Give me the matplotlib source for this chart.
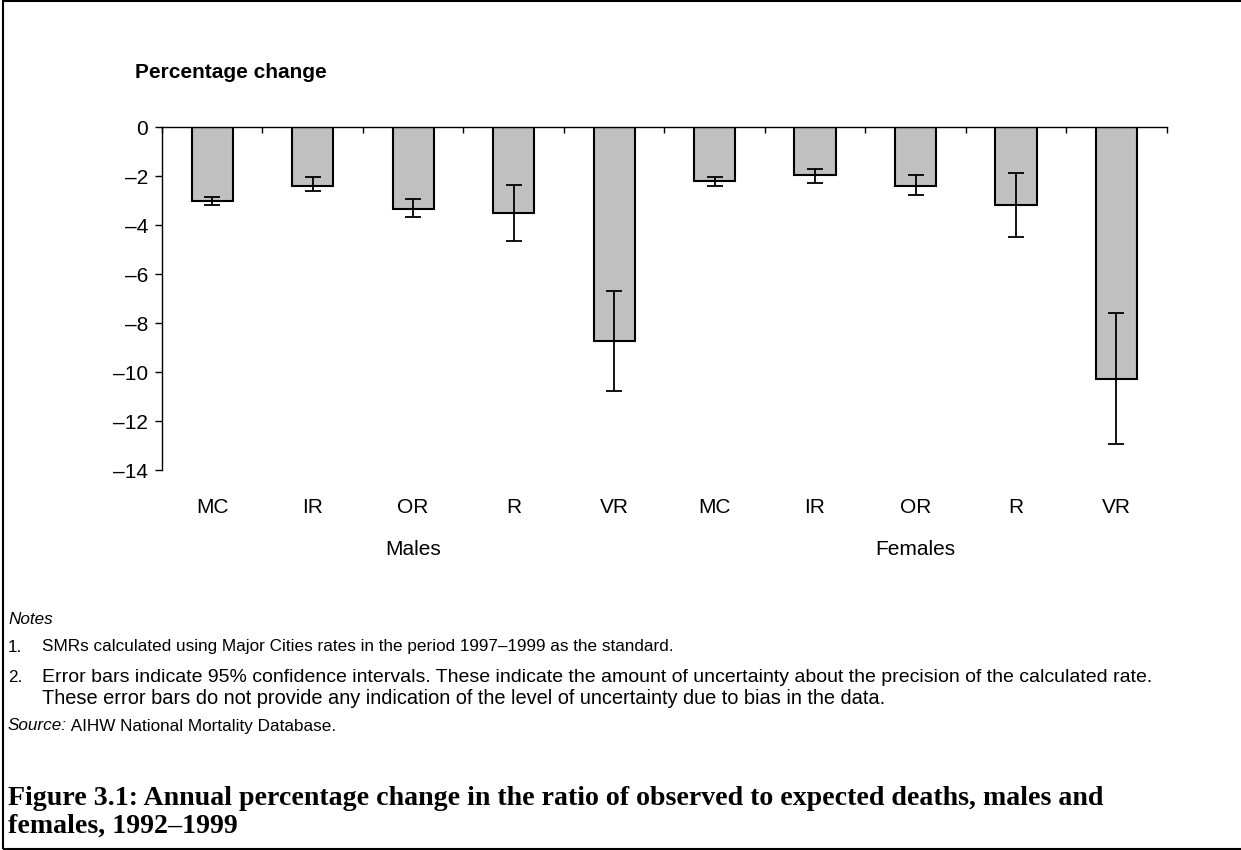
import numpy as np
import matplotlib.pyplot as plt
from matplotlib.patches import Rectangle
from matplotlib.transforms import blended_transform_factory

plt.rcParams['font.family'] = ['Liberation Sans', 'DejaVu Sans']

# ── Data ─────────────────────────────────────────────────────
categories = ['MC', 'IR', 'OR', 'R', 'VR', 'MC', 'IR', 'OR', 'R', 'VR']
groups = ['Males', 'Females']
group_centres = [2.5, 7.5]
change = [-3.00, -2.38, -3.35, -3.51, -8.71, -2.20, -1.96, -2.38, -3.18, -10.26]
ci_upper = [-2.84, -2.03, -2.93, -2.37, -6.68, -2.03, -1.71, -1.95, -1.86, -7.58]
ci_lower = [-3.18, -2.61, -3.67, -4.64, -10.75, -2.38, -2.29, -2.78, -4.48, -12.94]
yticks = [0, -2, -4, -6, -8, -10, -12, -14]
ytick_labels = ['0', '–2', '–4', '–6', '–8', '–10', '–12', '–14']

W, H = 1241, 850
fig = plt.figure(figsize=(W / 100, H / 100), dpi=100)
ax = fig.add_axes([162 / W, 1 - 470.3 / H, (1166.7 - 162) / W, 343 / H])

x = np.arange(len(categories)) + 0.5
vals = np.array(change)
yerr = [vals - np.array(ci_lower), np.array(ci_upper) - vals]

ax.bar(x, vals, width=0.41, color='#c0c0c0', edgecolor='black', linewidth=1.5, zorder=2)
ax.errorbar(x, vals, yerr=yerr, fmt='none', ecolor='black', elinewidth=1.3,
            capsize=5.5, capthick=1.3, zorder=3)

ax.set_xlim(0, len(categories))
ax.set_ylim(-14, 0)
for s in ['bottom', 'right']:
    ax.spines[s].set_visible(False)
for s in ['top', 'left']:
    ax.spines[s].set_linewidth(1.0)

# category boundary ticks hang down from the zero line
ax.set_xticks(np.arange(len(categories) + 1))
ax.tick_params(axis='x', which='major', top=True, bottom=False, direction='in',
               length=4.5, width=1, labeltop=False, labelbottom=False)
ax.set_xticks(x, minor=True)
ax.set_xticklabels(categories, minor=True)
ax.tick_params(axis='x', which='minor', bottom=True, top=False, length=0,
               pad=20, labelsize=15, labelbottom=True)

ax.set_yticks(yticks, ytick_labels)
ax.tick_params(axis='y', direction='out', length=5, width=1, labelsize=15, pad=5)

tr = blended_transform_factory(ax.transData, ax.transAxes)
for gx, g in zip(group_centres, groups):
    ax.text(gx, -0.232, g, transform=tr, ha='center', va='center', fontsize=15)

fig.text(135 / W, 1 - 73 / H, 'Percentage change', fontsize=15, fontweight='bold', va='center')

# ── Notes and caption ────────────────────────────────────────
nfs = 12.3
fig.text(8 / W, 1 - 620 / H, 'Notes', fontsize=nfs, style='italic', va='center')
fig.text(8 / W, 1 - 647 / H, '1.', fontsize=nfs, va='center')
fig.text(42 / W, 1 - 647 / H, 'SMRs calculated using Major Cities rates in the period 1997–1999 as the standard.',
         fontsize=nfs, va='center')
fig.text(8 / W, 1 - 677 / H, '2.', fontsize=nfs, va='center')
fig.text(42 / W, 1 - 677 / H, 'Error bars indicate 95% confidence intervals. These indicate the amount of '
         'uncertainty about the precision of the calculated rate.', fontsize=14.0, va='center')
fig.text(42 / W, 1 - 699 / H, 'These error bars do not provide any indication of the level of uncertainty '
         'due to bias in the data.', fontsize=14.4, va='center')
src = fig.text(8 / W, 1 - 726 / H, 'Source:', fontsize=nfs, style='italic', va='center')
fig.add_artist(plt.Annotation(' AIHW National Mortality Database.', xy=(1, 0), xycoords=src,
                              ha='left', va='bottom', fontsize=nfs))

tfont = dict(family='Liberation Serif', fontweight='bold', fontsize=20.1, va='baseline')
fig.text(8 / W, 1 - 805 / H, 'Figure 3.1: Annual percentage change in the ratio of observed to '
         'expected deaths, males and', **tfont)
fig.text(8 / W, 1 - 833 / H, 'females, 1992–1999', **tfont)

# frame round the whole figure
fig.add_artist(Rectangle((3 / W, 1 / H), 1.0, 848 / H, transform=fig.transFigure,
                         fill=False, edgecolor='black', linewidth=1.5))

plt.savefig('out.png', dpi=100)
